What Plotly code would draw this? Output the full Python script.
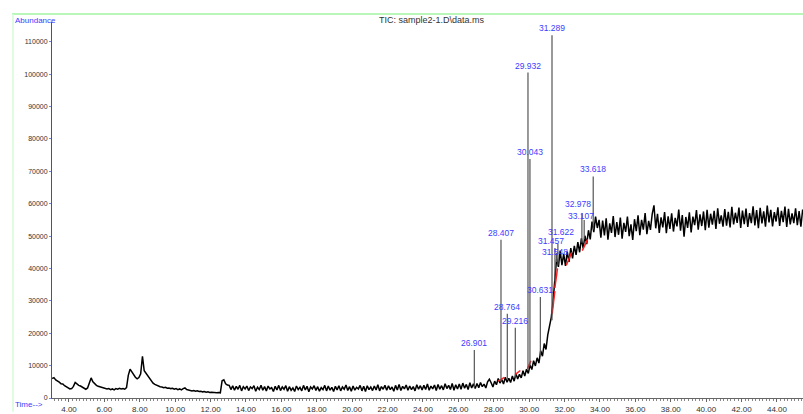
import plotly.graph_objects as go

# ---- total ion chromatogram, sampled every 0.1 min (abundance in thousands) ----
seg_early_start = 3.05
seg_early = [
    6.0, 6.3, 5.6, 5.3, 4.9, 4.4, 4.3, 3.8, 3.4, 3.1,
    2.8, 2.9, 3.6, 4.8, 4.2, 3.9, 3.7, 3.3, 3.0, 2.7,
    3.1, 4.9, 6.2, 5.0, 4.4, 3.9, 3.6, 3.4, 3.3, 3.1,
    3.0, 2.8, 2.9, 2.6, 2.8, 2.5, 2.9, 2.7, 3.0, 2.8,
    2.9, 2.7, 3.2, 7.0, 8.9, 8.0, 7.2, 6.4, 5.9, 6.3,
    7.5, 12.9, 8.4, 7.6, 6.8, 5.9, 5.2, 4.6, 4.2, 3.9,
    3.7, 3.5, 3.4, 3.2, 3.3, 3.0, 3.1, 2.9, 3.0, 2.7,
    2.9, 2.6, 2.8, 2.5, 2.9, 3.1, 2.6, 2.4, 2.3, 2.2,
    2.3, 2.1, 2.2, 2.0, 2.1, 1.9, 2.0, 1.8, 1.9, 1.7,
    1.8, 1.7, 1.8, 1.6, 1.7, 1.6, 5.3, 5.6, 4.4, 4.0,
]

seg_flat_start = 13.05
seg_flat = [
    3.9, 2.6, 3.8, 2.4, 3.6, 2.7, 3.9, 2.2, 3.5, 2.8,
    3.7, 2.3, 3.4, 2.9, 3.8, 2.1, 3.3, 2.6, 3.9, 2.4,
    3.5, 2.2, 3.7, 2.8, 3.2, 2.0, 3.6, 2.5, 3.9, 2.3,
    3.4, 2.7, 3.8, 2.1, 3.5, 2.4, 3.1, 2.0, 3.7, 2.6,
    3.3, 2.2, 3.9, 2.5, 3.6, 1.9, 3.4, 2.8, 3.8, 2.3,
    3.5, 2.1, 3.2, 2.6, 3.9, 2.2, 3.7, 2.4, 3.3, 2.0,
    3.6, 2.5, 3.8, 2.2, 3.4, 2.7, 4.0, 2.3, 3.5, 2.1,
    3.7, 2.4, 3.3, 2.8, 3.9, 2.2, 3.6, 2.0, 3.8, 2.6,
    3.4, 2.3, 3.7, 2.5, 4.1, 2.2, 3.5, 2.7, 3.9, 2.4,
    3.8, 2.6, 3.4, 2.1, 3.9, 2.5, 4.2, 2.3, 3.6, 2.8,
    4.0, 2.4, 3.7, 2.6, 3.5, 2.2, 4.1, 2.7, 3.8, 2.5,
    3.9, 2.6, 4.3, 2.4, 3.7, 2.8, 4.0, 2.3, 4.2, 2.7,
    3.8, 2.5, 4.4, 2.9, 3.9, 2.6, 4.5, 2.4, 4.1, 2.8,
    4.3, 2.7, 4.6, 3.0, 4.2, 2.6, 4.7, 3.1, 4.4, 2.9,
]

seg_rise_start = 27.05
seg_rise = [
    4.5, 3.2, 4.8, 3.5, 4.3, 3.1, 5.0, 5.8, 4.7, 3.4,
    5.2, 4.1, 6.0, 4.6, 5.7, 4.3, 6.4, 4.9, 6.1, 4.8,
    6.8, 5.2, 7.5, 5.9, 7.3, 6.2, 8.4, 6.8, 8.9, 7.6,
    10.2, 8.8, 11.5, 9.9, 12.4, 10.8, 14.6, 12.9, 16.8, 15.0,
    19.5, 21.8, 25.0, 30.0, 36.0, 43.0, 40.5, 45.5, 41.0, 44.5,
    40.8, 45.2, 42.0, 46.3, 43.1, 47.0, 44.2, 48.1, 45.0, 49.3,
    46.2, 50.1, 47.5, 51.8, 49.0, 54.5, 51.2, 56.0, 52.5, 55.0,
]

seg_plateau_start = 34.05
seg_plateau = [
    49.5, 54.8, 50.2, 55.5, 48.9, 53.9, 51.0, 56.2, 49.7, 54.3,
    50.4, 55.7, 49.2, 54.1, 51.3, 56.0, 50.0, 53.6, 48.8, 55.2,
    51.5, 56.4, 50.3, 55.0, 52.0, 57.1, 50.6, 54.7, 51.9, 56.8,
    59.5, 52.4, 56.9, 51.0, 55.8, 52.7, 57.4, 50.9, 56.1, 52.2,
    57.0, 51.4, 55.6, 53.0, 58.2, 51.7, 56.5, 49.8, 55.9, 52.5,
    57.3, 51.1, 56.0, 53.4, 58.0, 52.0, 56.7, 53.1, 57.6, 51.8,
    58.1, 52.6, 56.9, 53.5, 57.8, 52.2, 58.6, 53.8, 56.4, 52.9,
    58.3, 53.2, 57.5, 52.7, 59.0, 53.6, 57.2, 54.1, 58.8, 52.5,
    57.9, 53.7, 58.5, 52.8, 57.1, 54.0, 59.2, 53.3, 58.0, 52.4,
    58.7, 53.9, 57.6, 52.9, 59.4, 54.2, 58.1, 53.0, 57.4, 54.5,
    58.9, 53.1, 57.8, 54.3, 59.1, 52.8, 58.4, 53.6, 57.0, 54.0,
    58.6, 53.4, 57.7, 52.9, 58.2,
]

# ---- labelled peaks: retention time, apex and foot abundance (thousands) ----
peak_rt = [26.901, 28.407, 28.764, 29.216, 29.932, 30.043, 30.631,
           31.289, 31.457, 31.548, 31.622, 32.978, 33.107, 33.618]
peak_apex = [14.8, 48.9, 26.0, 21.7, 100.5, 73.8, 31.2,
             112.0, 46.3, 44.8, 47.6, 57.0, 55.0, 68.4]
peak_foot = [3.2, 5.0, 5.8, 6.6, 8.8, 9.8, 13.0,
             24.0, 36.0, 42.0, 41.0, 48.0, 49.0, 52.0]

# ---- integration baselines (start rt, start k, end rt, end k) ----
base_x0 = [28.25, 29.20, 29.90, 31.30, 31.45, 32.10, 33.00]
base_y0 = [5.2, 7.2, 9.0, 26.0, 34.0, 41.0, 45.5]
base_x1 = [28.60, 29.50, 30.10, 31.45, 31.60, 32.40, 33.30]
base_y1 = [6.4, 8.5, 11.5, 33.0, 40.0, 45.0, 49.0]

x_ticks = [4, 6, 8, 10, 12, 14, 16, 18, 20, 22, 24, 26, 28, 30, 32, 34, 36, 38, 40, 42, 44]
y_ticks = [0, 10000, 20000, 30000, 40000, 50000, 60000, 70000, 80000, 90000, 100000, 110000]

W, H = 803, 414
ML, MR, MT, MB = 52, 0, 22, 12
X_RANGE = [3.04, 45.47]
Y_RANGE = [0, 116100]

FONT = "Arial, Liberation Sans, sans-serif"
BLUE = "#3c3cff"

# pixel nudges for crowded peak labels (dx, dy; dy up is positive)
LABEL_NUDGE = {31.622: (3, 5), 31.457: (-4, 0), 31.548: (-2, -6),
               32.978: (-4, 2), 33.107: (-3, -3)}


def grid(start, vals):
    return [round(start + 0.1 * i, 3) for i in range(len(vals))]


def k(vals):
    return [v * 1000 for v in vals]


tic_t = (grid(seg_early_start, seg_early) + grid(seg_flat_start, seg_flat)
         + grid(seg_rise_start, seg_rise) + grid(seg_plateau_start, seg_plateau))
tic_y = k(seg_early) + k(seg_flat) + k(seg_rise) + k(seg_plateau)

fig = go.Figure()

fig.add_trace(go.Scatter(
    x=tic_t, y=tic_y, mode="lines",
    line=dict(color="#000000", width=1.5), hoverinfo="skip", showlegend=False,
))

# integration baselines
bx, by = [], []
for x0, y0, x1, y1 in zip(base_x0, base_y0, base_x1, base_y1):
    bx += [x0, x1, None]
    by += [y0 * 1000, y1 * 1000, None]
fig.add_trace(go.Scatter(
    x=bx, y=by, mode="lines",
    line=dict(color="#ff2020", width=1.5), hoverinfo="skip", showlegend=False,
))

# peak apices
px_, py_ = [], []
for rt, top, foot in zip(peak_rt, peak_apex, peak_foot):
    px_ += [rt, rt, None]
    py_ += [foot * 1000, top * 1000, None]
fig.add_trace(go.Scatter(
    x=px_, y=py_, mode="lines",
    line=dict(color="#555555", width=1.2), hoverinfo="skip", showlegend=False,
))

for rt, top in zip(peak_rt, peak_apex):
    dx, dy = LABEL_NUDGE.get(rt, (0, 0))
    fig.add_annotation(
        x=rt, y=top * 1000, xref="x", yref="y", text=f"{rt:.3f}",
        showarrow=False, yanchor="bottom", xshift=dx, yshift=dy,
        font=dict(family=FONT, size=8.5, color=BLUE),
    )


def paper_x(px):
    return (px - ML) / (W - ML - MR)


def paper_y(py):
    return (H - MB - py) / (H - MT - MB)


fig.add_annotation(
    x=paper_x(13), y=paper_y(20), xref="paper", yref="paper", text="Abundance",
    showarrow=False, xanchor="left", yanchor="middle",
    font=dict(family=FONT, size=8, color=BLUE),
)
fig.add_annotation(
    x=paper_x(13), y=paper_y(409), xref="paper", yref="paper", text="Time-->",
    showarrow=False, xanchor="left", yanchor="middle",
    font=dict(family=FONT, size=8, color=BLUE),
)
fig.add_annotation(
    x=paper_x(432), y=paper_y(20), xref="paper", yref="paper",
    text="TIC: sample2-1.D\\data.ms",
    showarrow=False, xanchor="center", yanchor="middle",
    font=dict(family=FONT, size=9, color="#333333"),
)

# light green window frame
fig.add_shape(type="line", xref="paper", yref="paper",
              x0=paper_x(12), x1=paper_x(W + 2), y0=paper_y(14), y1=paper_y(14),
              line=dict(color="#b9f7b9", width=2))
fig.add_shape(type="line", xref="paper", yref="paper",
              x0=paper_x(13), x1=paper_x(13), y0=paper_y(14), y1=paper_y(H + 2),
              line=dict(color="#d6fbd6", width=1.5))

fig.update_layout(
    width=W, height=H,
    margin=dict(l=ML, r=MR, t=MT, b=MB),
    paper_bgcolor="#ffffff", plot_bgcolor="#ffffff",
    showlegend=False,
    xaxis=dict(
        range=X_RANGE, tickvals=x_ticks, ticktext=[f"{v:.2f}" for v in x_ticks],
        showgrid=False, zeroline=False, showline=True, linecolor="#666666", linewidth=1,
        ticks="outside", ticklen=3, tickcolor="#666666",
        minor=dict(dtick=0.2, tick0=0, ticks="outside", ticklen=2, tickcolor="#888888"),
        tickfont=dict(family=FONT, size=8, color="#333333"),
    ),
    yaxis=dict(
        range=Y_RANGE, tickvals=y_ticks, ticktext=[str(v) for v in y_ticks],
        showgrid=False, zeroline=False, showline=True, linecolor="#555555", linewidth=1,
        ticks="outside", ticklen=2, tickcolor="#6a8fd8",
        tickfont=dict(family=FONT, size=7, color="#333333"),
    ),
)

fig.write_html("out.html")
